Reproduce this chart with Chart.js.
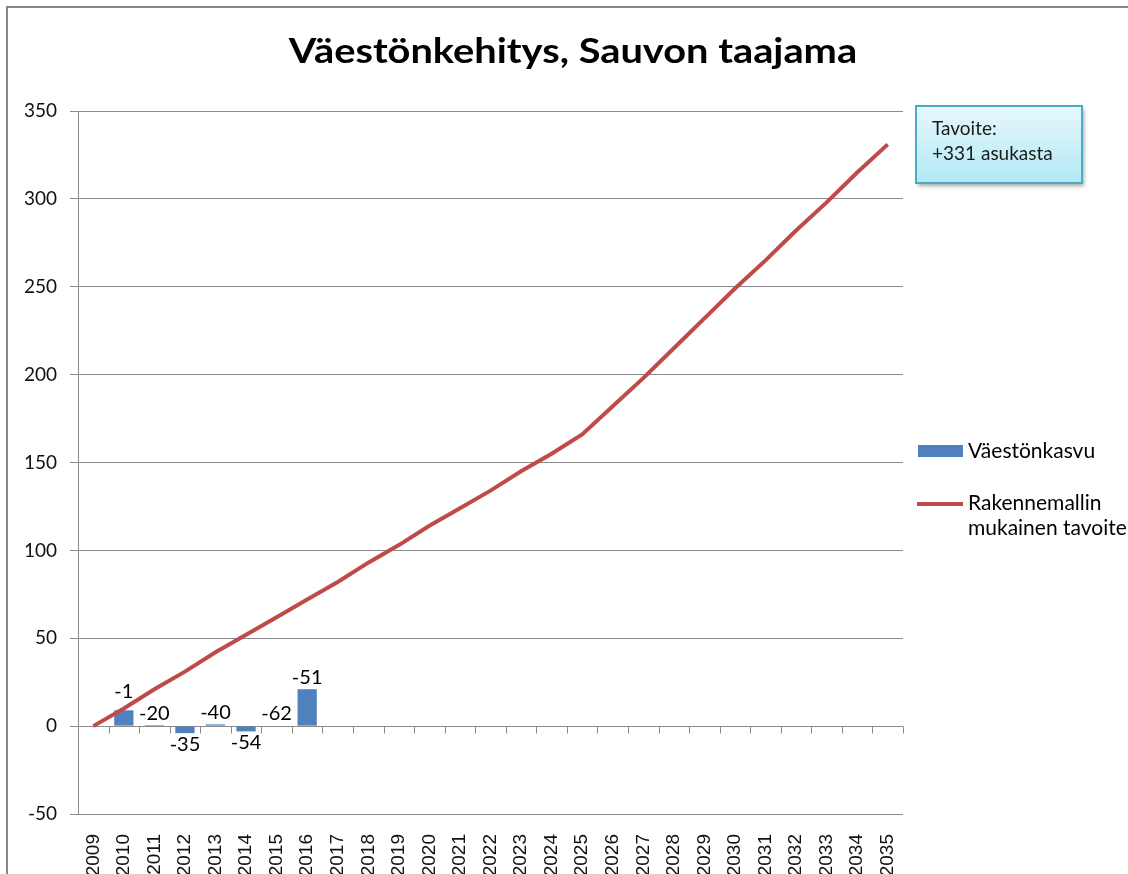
<!DOCTYPE html>
<html lang="fi">
<head>
<meta charset="UTF-8">
<title>Väestönkehitys, Sauvon taajama</title>
<script src="https://cdn.jsdelivr.net/npm/chart.js"></script>
<style>
  html, body { margin: 0; padding: 0; background: #fff; overflow: hidden; }
  #wrap { position: relative; width: 1128px; height: 874px; }
</style>
</head>
<body>
<div id="wrap"><canvas id="popChart" width="1128" height="874"></canvas></div>
<script>
// --- data ---
const years = ['2009','2010','2011','2012','2013','2014','2015','2016','2017','2018',
  '2019','2020','2021','2022','2023','2024','2025','2026','2027','2028','2029',
  '2030','2031','2032','2033','2034','2035'];
const growth = [null, 9, 0.6, -4, 1, -3, 0.3, 21, null, null, null, null, null, null,
  null, null, null, null, null, null, null, null, null, null, null, null, null];
const growthLabels = [null, '-1', '-20', '-35', '-40', '-54', '-62', '-51'];
const target = [0, 10, 21, 31, 42, 52, 62, 72, 82, 93, 103, 114, 124, 134, 145, 155,
  166, 182, 198, 215, 232, 249, 265, 282, 298, 315, 331];
const yTicks = [-50, 0, 50, 100, 150, 200, 250, 300, 350];

const seriesNames = ['Väestönkasvu', ['Rakennemallin', 'mukainen tavoite']];
const titleText = 'Väestönkehitys, Sauvon taajama';
const noteLines = ['Tavoite:', '+331 asukasta'];

const BLUE = '#4F81BD';
const RED = '#BE4B48';
const GRID = '#8a8a8a';
const CAL = 'Lato, "Open Sans", sans-serif';

Chart.defaults.font.family = CAL;
Chart.defaults.color = '#000';

// frame, title, legend, note box
const decorations = {
  id: 'decorations',
  beforeDraw(chart) {
    const c = chart.ctx;
    c.save();
    c.fillStyle = '#fff';
    c.fillRect(0, 0, chart.width, chart.height);
    c.strokeStyle = '#868686';
    c.lineWidth = 2;
    c.strokeRect(7, 7, chart.width + 50, chart.height + 50);
    c.restore();
  },
  afterDraw(chart) {
    const c = chart.ctx;
    c.save();
    // title (slightly widened, like the original)
    c.save();
    c.translate(573, 63);
    c.scale(1.17, 1);
    c.fillStyle = '#000';
    c.font = 'bold 34px ' + CAL;
    c.textAlign = 'center';
    c.textBaseline = 'alphabetic';
    c.fillText(titleText, 0, 0);
    c.restore();

    // legend
    c.textAlign = 'left';
    c.textBaseline = 'middle';
    c.font = '21px ' + CAL;
    c.fillStyle = BLUE;
    c.fillRect(918, 445, 45, 12);
    c.fillStyle = '#000';
    c.fillText(seriesNames[0], 968, 451);
    c.strokeStyle = RED;
    c.lineWidth = 4;
    c.beginPath();
    c.moveTo(917, 504);
    c.lineTo(963, 504);
    c.stroke();
    c.fillText(seriesNames[1][0], 968, 503);
    c.fillText(seriesNames[1][1], 968, 528);

    // note box
    const bx = 916, by = 106, bw = 166, bh = 77;
    c.shadowColor = 'rgba(0,0,0,0.35)';
    c.shadowBlur = 4;
    c.shadowOffsetX = 2;
    c.shadowOffsetY = 3;
    const g = c.createLinearGradient(0, by, 0, by + bh);
    g.addColorStop(0, '#e6f8fc');
    g.addColorStop(1, '#b3e9f4');
    c.fillStyle = g;
    c.fillRect(bx, by, bw, bh);
    c.shadowColor = 'transparent';
    c.strokeStyle = '#4BACC6';
    c.lineWidth = 2;
    c.strokeRect(bx, by, bw, bh);
    c.fillStyle = '#1a1a1a';
    c.font = '19px ' + CAL;
    c.fillText(noteLines[0], 932, 129);
    c.fillText(noteLines[1], 932, 154);
    c.restore();
  }
};

// horizontal axis line at zero with tick marks between categories
const zeroAxis = {
  id: 'zeroAxis',
  beforeDatasetsDraw(chart) {
    const c = chart.ctx, a = chart.chartArea;
    const y0 = Math.round(chart.scales.y.getPixelForValue(0)) + 0.5;
    const n = years.length, w = (a.right - a.left) / n;
    c.save();
    c.strokeStyle = GRID;
    c.lineWidth = 1;
    c.beginPath();
    c.moveTo(a.left, y0);
    c.lineTo(a.right, y0);
    for (let i = 0; i <= n; i++) {
      const x = Math.round(a.left + i * w) + 0.5;
      c.moveTo(x, y0);
      c.lineTo(x, y0 + 7);
    }
    c.stroke();
    c.restore();
  }
};

// value labels for the bars
const barLabels = {
  id: 'barLabels',
  afterDatasetsDraw(chart) {
    const c = chart.ctx;
    const meta = chart.getDatasetMeta(0);
    c.save();
    c.font = '20px ' + CAL;
    c.fillStyle = '#000';
    c.textAlign = 'center';
    meta.data.forEach((el, i) => {
      const txt = growthLabels[i];
      if (!txt || growth[i] === null) return;
      if (growth[i] >= 0) {
        c.textBaseline = 'bottom';
        c.fillText(txt, el.x, Math.min(el.y, el.base) - (i === 1 ? 9 : 2));
      } else {
        c.textBaseline = 'top';
        c.fillText(txt, el.x, Math.max(el.y, el.base) + 1);
      }
    });
    c.restore();
  }
};

new Chart(document.getElementById('popChart'), {
  type: 'bar',
  data: {
    labels: years,
    datasets: [
      {
        label: 'Väestönkasvu',
        data: growth,
        backgroundColor: BLUE,
        barPercentage: 1,
        categoryPercentage: 0.63,
        order: 2
      },
      {
        type: 'line',
        label: 'Rakennemallin mukainen tavoite',
        data: target,
        borderColor: RED,
        borderWidth: 4,
        pointRadius: 0,
        tension: 0,
        fill: false,
        order: 1
      }
    ]
  },
  options: {
    responsive: false,
    animation: false,
    layout: { padding: { top: 111, right: 225, bottom: 0, left: 0 } },
    plugins: {
      legend: { display: false },
      tooltip: { enabled: false },
      title: { display: false }
    },
    scales: {
      y: {
        min: -50,
        max: 350,
        afterBuildTicks(scale) { scale.ticks = yTicks.map(v => ({ value: v })); },
        afterFit(scale) { scale.width = 78; },
        grid: { color: GRID, lineWidth: 1, tickLength: 8, drawTicks: true },
        border: { display: true, color: GRID },
        ticks: { font: { size: 19 }, padding: 13, color: '#111' }
      },
      x: {
        afterFit(scale) { scale.height = 60; },
        grid: { display: false },
        border: { display: false },
        ticks: {
          minRotation: 90,
          maxRotation: 90,
          autoSkip: false,
          padding: 12,
          color: '#111',
          font: { family: '"Liberation Sans", Arial, sans-serif', size: 19 }
        }
      }
    }
  },
  plugins: [decorations, zeroAxis, barLabels]
});
</script>
</body>
</html>
